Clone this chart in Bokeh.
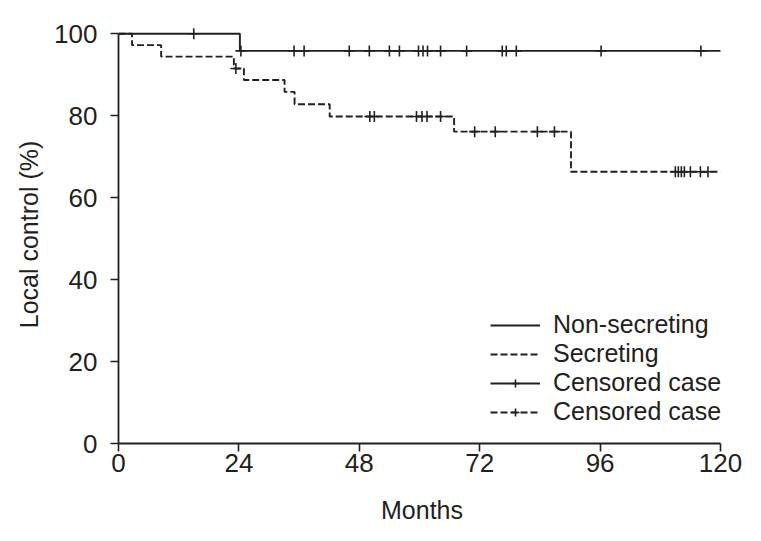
import numpy as np
from bokeh.plotting import figure
from bokeh.models import Range1d, FixedTicker, Legend, LegendItem
from bokeh.embed import file_html
from bokeh.resources import INLINE

# ---- data ----
ns_times = [0, 24.2, 120]
ns_values = [100, 95.8, 95.8]
ns_censor = [15, 24.4, 35.0, 37.0, 46.0, 50.0, 54.0, 56.0, 59.8, 60.7, 61.6,
             64.2, 69.4, 76.5, 77.3, 79.3, 96.2, 116.1]

sec_times = [0, 2.7, 8.5, 23.0, 25.0, 33.1, 35.1, 42.1, 66.9, 90.2, 120]
sec_values = [100, 97.2, 94.4, 91.5, 88.7, 85.8, 82.8, 79.8, 76.1, 66.3, 66.3]
sec_censor = [23.4, 50.1, 51.0, 59.4, 60.5, 61.5, 64.2, 71.0, 75.1, 83.5, 86.9,
              111.0, 111.6, 112.2, 112.8, 114.0, 116.0, 117.5]

x_ticks = [0, 24, 48, 72, 96, 120]
y_ticks = [0, 20, 40, 60, 80, 100]


def level_at(times, values, t):
    i = np.searchsorted(times, t, side="right") - 1
    return [values[k] for k in i]


INK = "#231f20"
FONT = "Liberation Sans"

p = figure(frame_width=607, frame_height=418, output_backend="svg",
           toolbar_location=None, min_border_left=118, min_border_top=25,
           min_border_right=20, min_border_bottom=80,
           x_range=Range1d(0, 121), y_range=Range1d(0, 102))
p.outline_line_color = None
p.grid.visible = False
p.background_fill_color = "white"

ns_line = p.step(ns_times, ns_values, mode="after", line_color=INK, line_width=1.9)
sec_line = p.step(sec_times, sec_values, mode="after", line_color=INK, line_width=1.9,
                  line_dash="7 3")
ns_c = p.scatter(ns_censor, level_at(ns_times, ns_values, ns_censor), marker="cross",
                 size=11, line_color=INK, line_width=1.6)
sec_c = p.scatter(sec_censor, level_at(sec_times, sec_values, sec_censor), marker="cross",
                  size=11, line_color=INK, line_width=1.6)

for ax in (p.xaxis[0], p.yaxis[0]):
    ax.axis_line_color = INK
    ax.axis_line_width = 1.8
    ax.major_tick_line_color = INK
    ax.major_tick_line_width = 1.6
    ax.major_tick_in = 0
    ax.major_tick_out = 8
    ax.minor_tick_line_color = None
    ax.major_label_text_font = FONT
    ax.major_label_text_font_size = "26px"
    ax.major_label_text_color = INK
    ax.axis_label_text_font = FONT
    ax.axis_label_text_font_size = "25px"
    ax.axis_label_text_color = INK
    ax.axis_label_text_font_style = "normal"

p.xaxis.ticker = FixedTicker(ticks=x_ticks)
p.yaxis.ticker = FixedTicker(ticks=y_ticks)
p.xaxis.bounds = (0, 120)
p.yaxis.bounds = (0, 100)
p.xaxis.axis_label = "Months"
p.yaxis.axis_label = "Local control (%)"
p.xaxis.major_label_standoff = 2
p.yaxis.major_label_standoff = 13
p.xaxis.axis_label_standoff = 21
p.yaxis.axis_label_standoff = 8

legend = Legend(items=[
    LegendItem(label="Non-secreting", renderers=[ns_line]),
    LegendItem(label="Secreting", renderers=[sec_line]),
    LegendItem(label="Censored case", renderers=[ns_line, ns_c]),
    LegendItem(label="Censored case", renderers=[sec_line, sec_c]),
], location=(372, 17))
legend.background_fill_alpha = 0
legend.border_line_color = None
legend.label_text_font = FONT
legend.label_text_font_size = "25px"
legend.label_text_color = INK
legend.glyph_width = 50
legend.glyph_height = 20
legend.label_standoff = 13
legend.spacing = 0
legend.padding = 0
legend.margin = 0
p.add_layout(legend, "center")

open("out.html", "w").write(file_html(p, INLINE))
